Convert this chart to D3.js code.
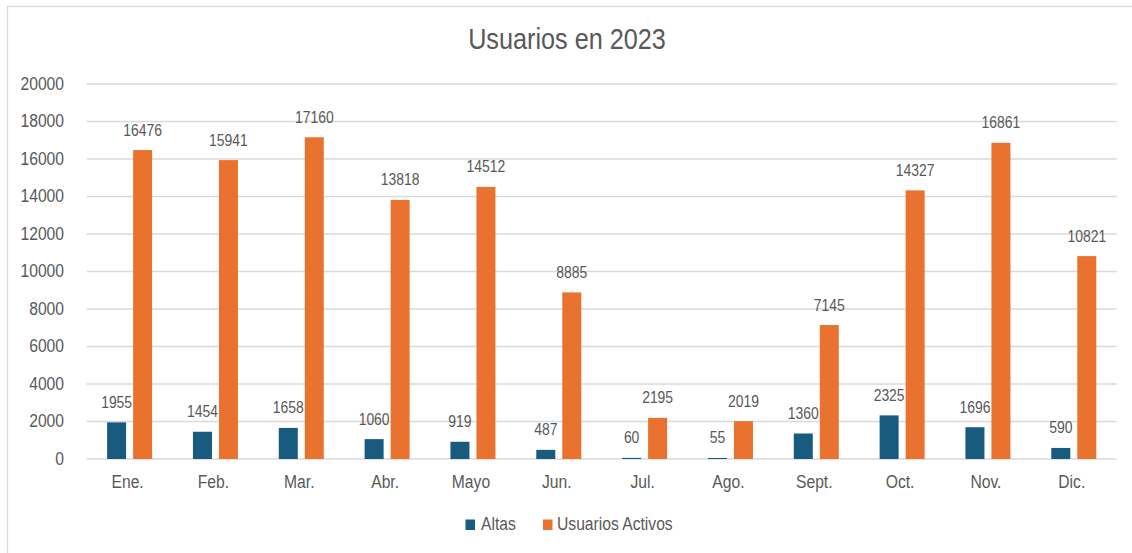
<!DOCTYPE html>
<html><head><meta charset="utf-8">
<script src="https://cdn.jsdelivr.net/npm/d3@7/dist/d3.min.js"></script>
<style>html,body{margin:0;padding:0;background:#fff;}svg{display:block;}</style>
</head><body>
<svg id="c" width="1132" height="553"></svg>
<script>
const months = ["Ene.","Feb.","Mar.","Abr.","Mayo","Jun.","Jul.","Ago.","Sept.","Oct.","Nov.","Dic."];
const altas = [1955,1454,1658,1060,919,487,60,55,1360,2325,1696,590];
const activos = [16476,15941,17160,13818,14512,8885,2195,2019,7145,14327,16861,10821];
const yTicks = [0,2000,4000,6000,8000,10000,12000,14000,16000,18000,20000];
const seriesNames = ["Altas","Usuarios Activos"];
const colors = ["#185b7f","#e9732e"];

const svg = d3.select("#c");
const FONT = "'Liberation Sans', Arial, sans-serif";
const SX = 0.87;
const TXT = "#595959";

function txt(x, y, s, size, anchor, fill) {
  return svg.append("text")
    .attr("transform", `translate(${x},${y}) scale(${SX},1)`)
    .attr("text-anchor", anchor || "middle")
    .attr("font-family", FONT).attr("font-size", size)
    .attr("fill", fill || TXT).text(s);
}

// frame
svg.append("rect").attr("x",7.5).attr("y",6.5).attr("width",1300).attr("height",700)
  .attr("fill","none").attr("stroke","#d9d9d9").attr("stroke-width",1.2);

const x = d3.scaleBand().domain(months).range([86.7,1116.7]).padding(0);
const y = d3.scaleLinear().domain([0,20000]).range([459,84]);

// gridlines
svg.append("g").selectAll("line").data(yTicks).join("line")
  .attr("x1",86.7).attr("x2",1116.7)
  .attr("y1",d=>y(d)).attr("y2",d=>y(d))
  .attr("stroke","#d9d9d9").attr("stroke-width",1.3);

// y tick labels
yTicks.forEach(t => txt(64, y(t)+5.5, String(t), 18, "end"));

// x labels
months.forEach(m => txt(x(m)+x.bandwidth()/2-2, 488, m, 18, "middle"));

const bw = 19;
const offs = [-22.5, 3.5];
const data = [altas, activos];

data.forEach((arr, si) => {
  svg.append("g").selectAll("rect").data(arr).join("rect")
    .attr("x",(d,i)=>x(months[i])+x.bandwidth()/2+offs[si])
    .attr("width",bw)
    .attr("y",d=>y(d))
    .attr("height",d=>y(0)-y(d))
    .attr("fill",colors[si]);
});
data.forEach((arr, si) => {
  arr.forEach((d,i) => {
    txt(x(months[i])+x.bandwidth()/2+offs[si]+bw/2, y(d)-14.5, String(d), 16, "middle");
  });
});

// title
txt(567, 49, "Usuarios en 2023", 29, "middle");

// legend
const leg = [{x:465.5, tx:481}, {x:543, tx:557}];
seriesNames.forEach((n,i) => {
  svg.append("rect").attr("x",leg[i].x).attr("y",519.5).attr("width",9.5).attr("height",10.5).attr("fill",colors[i]);
  txt(leg[i].tx, 529.5, n, 18, "start");
});
</script>
</body></html>
